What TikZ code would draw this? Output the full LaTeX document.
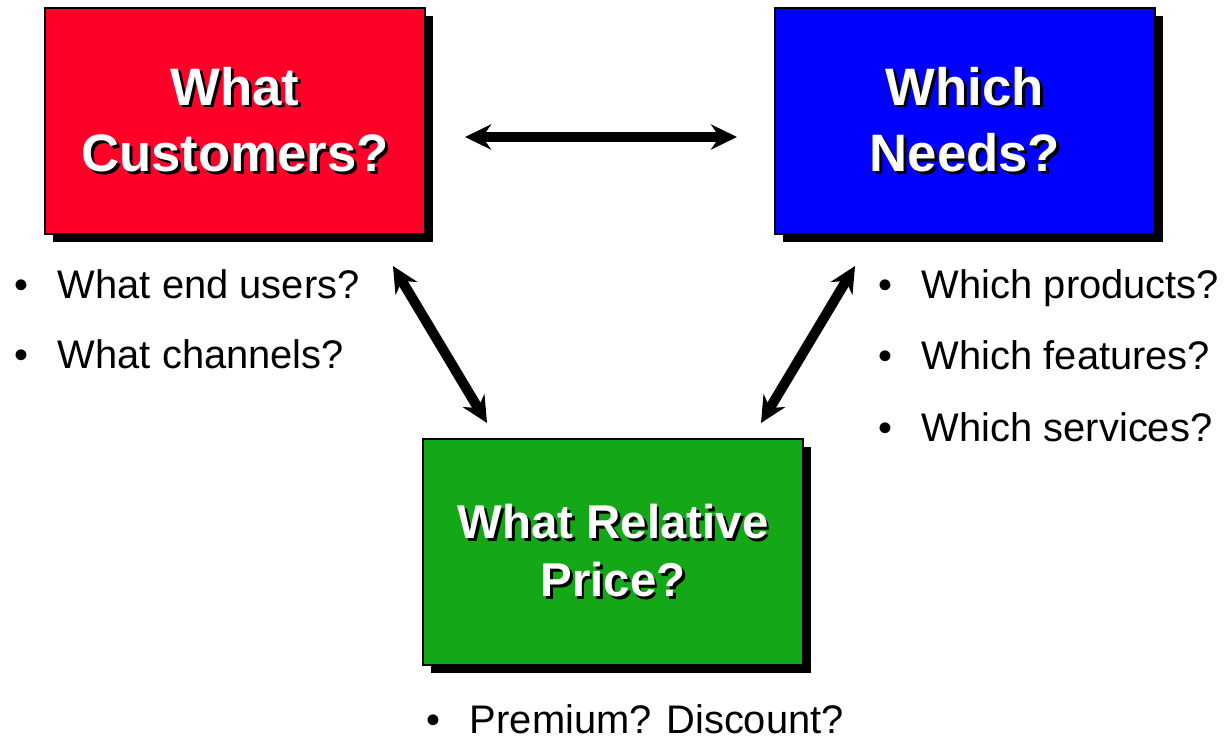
\documentclass[tikz,border=0pt]{standalone}
\usepackage{fontspec}
\setmainfont{Liberation Sans}
\usepackage{xcolor}
\usetikzlibrary{arrows.meta,shadows}

\definecolor{custred}{RGB}{255,0,41}
\definecolor{needblue}{RGB}{0,0,255}
\definecolor{pricegreen}{RGB}{20,168,24}

% white text with a black shadow behind it
\newcommand{\shtext}[1]{\leavevmode\rlap{\kern1.6pt\raisebox{-1.6pt}{\color{black}#1}}#1}
\newcommand{\bul}[1]{\strut\makebox[0.88cm][l]{\textbullet}#1}

\begin{document}
\begin{tikzpicture}[x=0.02cm, y=-0.02cm,
  every node/.style={inner sep=0pt, outer sep=0pt},
  qbox/.style={draw=black, line width=1pt, minimum width=7.6cm, minimum height=4.52cm,
    align=center, text=white, font=\fontsize{30}{38}\selectfont\bfseries,
    drop shadow={shadow xshift=0.16cm, shadow yshift=-0.16cm, fill=black, opacity=1}},
  item/.style={anchor=west, font=\fontsize{22.7}{26}\selectfont},
  dblarrow/.style={line width=0.2cm, {Stealth[length=0.52cm, width=0.5cm]}-{Stealth[length=0.52cm, width=0.5cm]}}]
  \useasboundingbox (0,0) rectangle (1224,740);
  \node (cust) [qbox, fill=custred] at (235,121) {\shtext{What}\\\shtext{Customers?}};
  \node (needs) [qbox, fill=needblue] at (965,121) {\shtext{Which}\\\shtext{Needs?}};
  \node (price) [qbox, fill=pricegreen, font=\fontsize{27}{33}\selectfont\bfseries] at (613,552) {\shtext{What Relative}\\\shtext{Price?}};

  \coordinate (cu0) at ([shift={(40,16)}]cust.east);
  \coordinate (ne0) at ([shift={(-38,16)}]needs.west);
  \coordinate (cu1) at ([shift={(-32,32)}]cust.south east);
  \coordinate (pr1) at ([shift={(64,-16)}]price.north west);
  \coordinate (ne1) at ([shift={(80,32)}]needs.south west);
  \coordinate (pr2) at ([shift={(-42,-16)}]price.north east);
  \draw[dblarrow] (cu0) -- (ne0);
  \draw[dblarrow] (cu1) -- (pr1);
  \draw[dblarrow] (ne1) -- (pr2);

  \node (eu) [item] at (14,289) {\bul{What end users?}};
  \node (ch) [item] at (14,359) {\bul{What channels?}};
  \node (pd) [item] at (878,289) {\bul{Which products?}};
  \node (ft) [item] at (878,360) {\bul{Which features?}};
  \node (sv) [item] at (878,432) {\bul{Which services?}};
  \node (pm) [item] at (426,724) {\bul{Premium? Discount?}};
\end{tikzpicture}
\end{document}
